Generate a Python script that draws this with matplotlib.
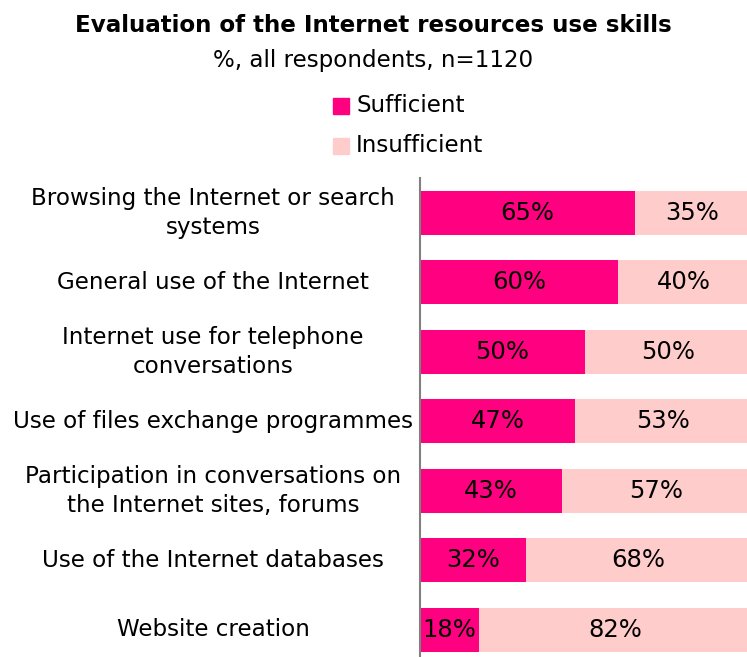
import matplotlib.pyplot as plt
import matplotlib.transforms as mtransforms

categories = ['Browsing the Internet or search\nsystems',
              'General use of the Internet',
              'Internet use for telephone\nconversations',
              'Use of files exchange programmes',
              'Participation in conversations on\nthe Internet sites, forums',
              'Use of the Internet databases',
              'Website creation']
sufficient = [65, 60, 50, 47, 43, 32, 18]
insufficient = [35, 40, 50, 53, 57, 68, 82]

c_suf = '#FF0080'
c_ins = '#FFCCCC'
fs = 16.6

fig = plt.figure(figsize=(7.47, 6.57), dpi=100)
ax = fig.add_axes([420 / 747, 0, 1 - 420 / 747, 1 - 178 / 657])

y = list(range(len(categories)))
ax.barh(y, sufficient, height=0.63, color=c_suf)
ax.barh(y, insufficient, left=sufficient, height=0.63, color=c_ins)

for i in y:
    ax.text(sufficient[i] / 2, i, f'{sufficient[i]}%', ha='center', va='center', fontsize=17.5)
    ax.text(sufficient[i] + insufficient[i] / 2, i, f'{insufficient[i]}%', ha='center', va='center', fontsize=17.5)

# category labels centred in left column
trans = mtransforms.blended_transform_factory(fig.transFigure, ax.transData)
for i, lab in enumerate(categories):
    ax.text(213 / 747, i, lab, transform=trans, ha='center', va='center', fontsize=fs, linespacing=1.35)

ax.set_xlim(0, 99)
ax.set_ylim(6.39, -0.5)
ax.set_xticks([])
ax.set_yticks([])
for s in ['top', 'right', 'bottom']:
    ax.spines[s].set_visible(False)
ax.spines['left'].set_color('#808080')
ax.spines['left'].set_linewidth(1.5)

fig.text(0.5, 1 - 25 / 657, 'Evaluation of the Internet resources use skills',
         ha='center', va='center', fontsize=fs, fontweight='bold')
fig.text(0.5, 1 - 60 / 657, '%, all respondents, n=1120', ha='center', va='center', fontsize=fs)

# legend
fig.patches.append(plt.Rectangle((333 / 747, 1 - 114 / 657), 16 / 747, 16 / 657,
                                 transform=fig.transFigure, color=c_suf))
fig.patches.append(plt.Rectangle((333 / 747, 1 - 154 / 657), 16 / 747, 16 / 657,
                                 transform=fig.transFigure, color=c_ins))
fig.text(356 / 747, 1 - 106 / 657, 'Sufficient', ha='left', va='center', fontsize=fs)
fig.text(356 / 747, 1 - 146 / 657, 'Insufficient', ha='left', va='center', fontsize=fs)

fig.savefig('out.png', dpi=100)
